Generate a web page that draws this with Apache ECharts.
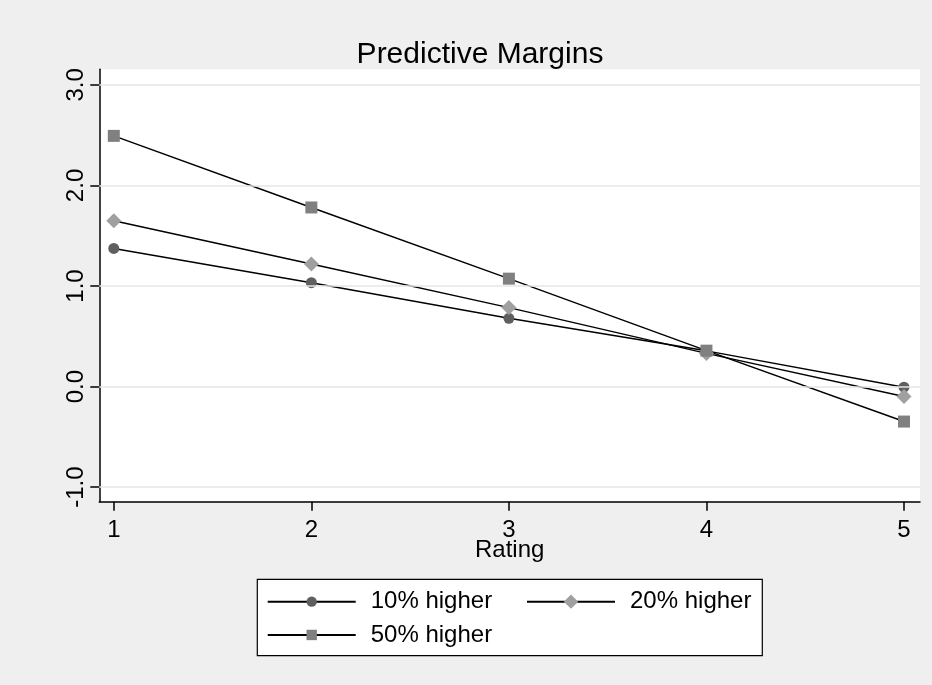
<!DOCTYPE html>
<html>
<head>
<meta charset="utf-8">
<script src="https://cdn.jsdelivr.net/npm/echarts@6/dist/echarts.min.js"></script>
<style>
html,body{margin:0;padding:0;background:#efefef;}
#chart{width:932px;height:685px;}
</style>
</head>
<body>
<div id="chart"></div>
<script>
const ratings = [1, 2, 3, 4, 5];
const higher10 = [1.374, 1.033, 0.679, 0.355, -0.006];
const higher20 = [1.648, 1.218, 0.785, 0.330, -0.099];
const higher50 = [2.493, 1.781, 1.073, 0.357, -0.348];
const yTicks = [-1, 0, 1, 2, 3];
const xTicks = [1, 2, 3, 4, 5];
const seriesNames = ['10% higher', '20% higher', '50% higher'];

const font = 'Liberation Sans, Arial, sans-serif';
const chart = echarts.init(document.getElementById('chart'));

function pairs(vals){ return ratings.map((r,i)=>[r, vals[i]]); }

const mk = (name, vals, symbol, size, color) => ({
  name, type:'line', data: pairs(vals), symbol, symbolSize: size,
  lineStyle:{color:'#000', width:1.5},
  itemStyle:{color},
  z: 3
});

const legendText = {fontFamily:font, fontSize:24, color:'#000', lineHeight:28.3, padding:[0,0,0,10]};

chart.setOption({
  backgroundColor:'#efefef',
  animation:false,
  title:{
    text:'Predictive Margins',
    left:475, top:35, textAlign:'center',
    textStyle:{fontFamily:font, fontWeight:'normal', fontSize:30, color:'#000'}
  },
  grid:{left:99.3, right:12, top:69.3, bottom:183.3, show:true, backgroundColor:'#fff', borderWidth:0},
  xAxis:{
    type:'value', min:0.9266, max:5.081,
    name:'Rating', nameLocation:'middle', nameGap:37, nameMoveOverlap:false,
    nameTextStyle:{fontFamily:font, fontSize:24, color:'#000'},
    axisLine:{onZero:false, lineStyle:{color:'#000', width:1.5}},
    axisTick:{show:true, length:9, customValues:xTicks, lineStyle:{color:'#000', width:1.5}},
    axisLabel:{customValues:xTicks, fontFamily:font, fontSize:24, color:'#000', margin:17},
    splitLine:{show:false}
  },
  yAxis:{
    type:'value', min:-1.145, max:3.155,
    axisLine:{show:true, onZero:false, lineStyle:{color:'#000', width:1.5}},
    axisTick:{show:true, length:9, customValues:yTicks, lineStyle:{color:'#000', width:1.5}},
    axisLabel:{customValues:yTicks, rotate:90, fontFamily:font, fontSize:24, color:'#000', margin:11,
      formatter:v=>Number(v).toFixed(1)},
    splitLine:{show:false}
  },
  legend:[
    {
      data:[seriesNames[0], seriesNames[2]],
      orient:'vertical',
      left:266.7, top:587.5,
      padding:0,
      itemWidth:88, itemHeight:13,
      itemGap:5,
      textStyle:legendText
    },
    {
      data:[seriesNames[1]],
      orient:'vertical',
      left:526, top:587.5,
      padding:0,
      itemWidth:88, itemHeight:18,
      itemGap:5,
      textStyle:legendText
    }
  ],
  graphic:[{
    type:'rect', left:256.7, top:578.7, z:-1,
    shape:{width:505, height:76.3},
    style:{fill:'#fff', stroke:'#000', lineWidth:1.2}
  }],
  series:[
    {
      type:'line', data:[], silent:true, z:1,
      markLine:{
        silent:true, symbol:'none', label:{show:false},
        lineStyle:{color:'#e6e6e6', width:1.5, type:'solid'},
        data: yTicks.map(v=>({yAxis:v}))
      }
    },
    mk(seriesNames[0], higher10, 'circle', 11, '#5f5f5f'),
    mk(seriesNames[1], higher20, 'diamond', 15, '#a0a0a0'),
    mk(seriesNames[2], higher50, 'rect', 12, '#808080')
  ]
});
</script>
</body>
</html>
